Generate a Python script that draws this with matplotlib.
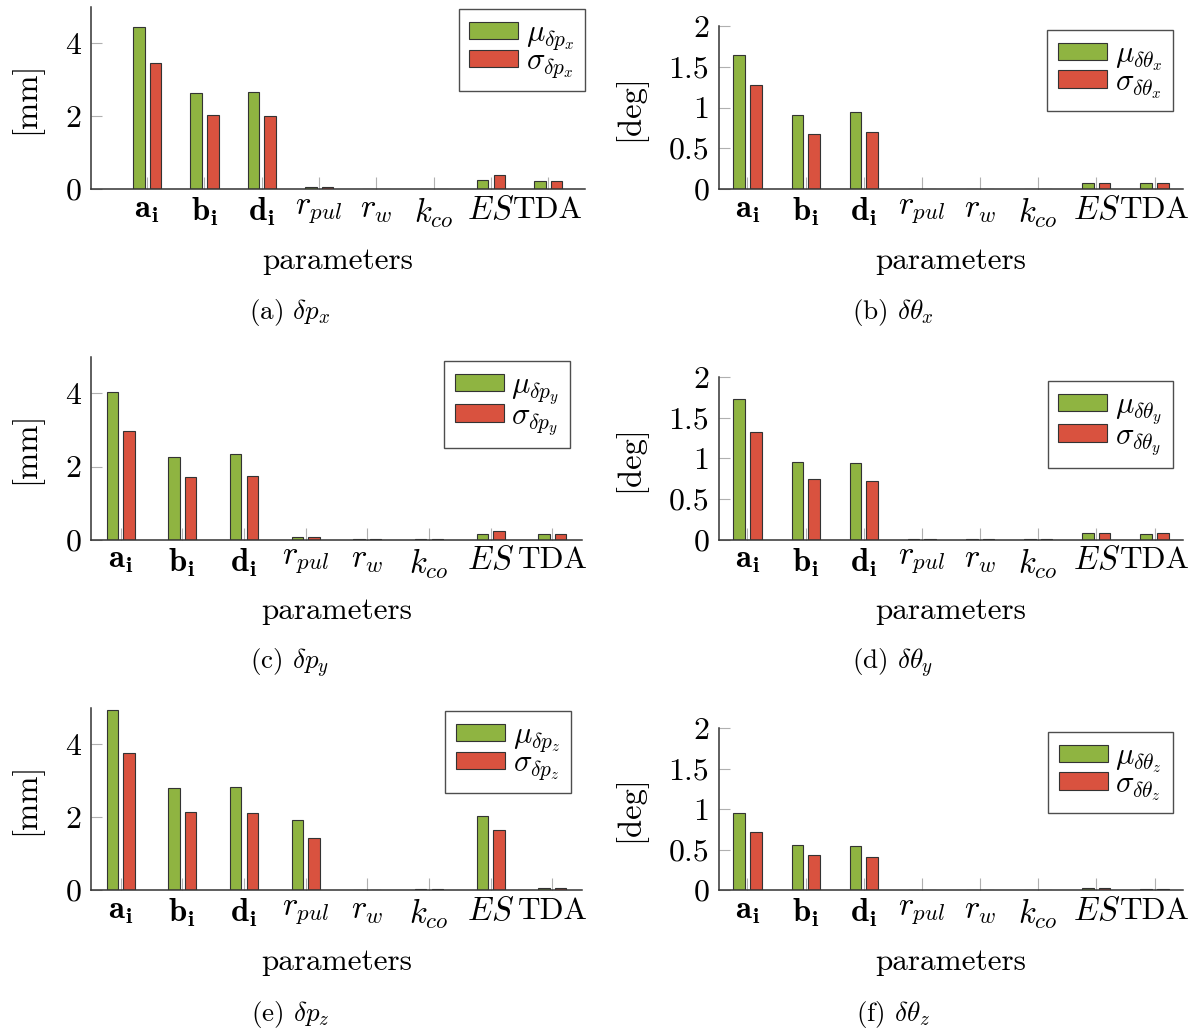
import numpy as np
import matplotlib
matplotlib.use("Agg")
import matplotlib.pyplot as plt

plt.rcParams["font.family"] = "serif"
plt.rcParams["font.serif"] = ["cmr10"]
plt.rcParams["mathtext.fontset"] = "cm"
plt.rcParams["axes.unicode_minus"] = False
plt.rcParams["axes.formatter.use_mathtext"] = True

params = [r"$\mathbf{a}_{\mathbf{i}}$", r"$\mathbf{b}_{\mathbf{i}}$", r"$\mathbf{d}_{\mathbf{i}}$",
          r"$r_{pul}$", r"$r_w$", r"$k_{co}$", r"$ES$", "TDA"]

# mean / std of the error per parameter group
mu_px = [4.45, 2.64, 2.67, 0.05, 0.01, 0.01, 0.25, 0.22]
sigma_px = [3.46, 2.03, 2.01, 0.06, 0.01, 0.01, 0.39, 0.22]
mu_tx = [1.64, 0.91, 0.95, 0.002, 0.001, 0.001, 0.07, 0.075]
sigma_tx = [1.27, 0.67, 0.70, 0.002, 0.001, 0.001, 0.078, 0.078]
mu_py = [4.05, 2.26, 2.34, 0.055, 0.01, 0.005, 0.155, 0.145]
sigma_py = [2.98, 1.70, 1.74, 0.07, 0.01, 0.005, 0.23, 0.145]
mu_ty = [1.73, 0.96, 0.946, 0.003, 0.001, 0.001, 0.074, 0.066]
sigma_ty = [1.32, 0.74, 0.724, 0.003, 0.001, 0.001, 0.082, 0.074]
mu_pz = [4.95, 2.79, 2.83, 1.92, 0.01, 0.02, 2.02, 0.065]
sigma_pz = [3.77, 2.14, 2.11, 1.44, 0.01, 0.02, 1.64, 0.055]
mu_tz = [0.95, 0.55, 0.54, 0.004, 0.003, 0.003, 0.02, 0.01]
sigma_tz = [0.71, 0.426, 0.413, 0.004, 0.003, 0.003, 0.025, 0.01]

mm_ticks = [0, 2, 4]
mm_ticklabels = ["0", "2", "4"]
deg_ticks = [0, 0.5, 1, 1.5, 2]
deg_ticklabels = ["0", "0.5", "1", "1.5", "2"]

GREEN = "#8fb441"
RED = "#d9523f"
W, H = 1192, 1029

# (mu, sigma, symbol, caption, unit, box px (x0, x1, ytop, ybot), xlim, legend corner px)
panels = [
    (mu_px, sigma_px, r"\delta p_x", r"(a) $\delta p_x$", "[mm]", (91, 585, 7, 189), (-0.98, 7.64), (585, 9)),
    (mu_tx, sigma_tx, r"\delta\theta_x", r"(b) $\delta\theta_x$", "[deg]", (719, 1183, 26, 189), (-0.49, 7.49), (1173, 30)),
    (mu_py, sigma_py, r"\delta p_y", r"(c) $\delta p_y$", "[mm]", (91, 582, 357, 539.5), (-0.48, 7.48), (570, 361)),
    (mu_ty, sigma_ty, r"\delta\theta_y", r"(d) $\delta\theta_y$", "[deg]", (719, 1183, 377, 539.5), (-0.49, 7.49), (1173, 381)),
    (mu_pz, sigma_pz, r"\delta p_z", r"(e) $\delta p_z$", "[mm]", (91, 582, 708, 890), (-0.48, 7.48), (571, 711)),
    (mu_tz, sigma_tz, r"\delta\theta_z", r"(f) $\delta\theta_z$", "[deg]", (719, 1183, 728, 890), (-0.49, 7.49), (1173, 732)),
]

fig = plt.figure(figsize=(W / 100, H / 100), dpi=100)
x = np.arange(len(params))

for mu, sigma, sym, caption, unit, box, xlim, leg in panels:
    x0, x1, yt, yb = box
    ax = fig.add_axes([x0 / W, 1 - yb / H, (x1 - x0) / W, (yb - yt) / H])

    ppu = (x1 - x0) / (xlim[1] - xlim[0])
    bw = 11.5 / ppu
    off = 8.3 / ppu
    ax.bar(x - off, mu, bw, color=GREEN, edgecolor="#333333", linewidth=0.8, label=rf"$\mu_{{{sym}}}$")
    ax.bar(x + off, sigma, bw, color=RED, edgecolor="#333333", linewidth=0.8, label=rf"$\sigma_{{{sym}}}$")

    ax.set_xlim(*xlim)
    if unit == "[mm]":
        ax.set_ylim(0, 5)
        ax.set_yticks(mm_ticks)
        ax.set_yticklabels(mm_ticklabels)
    else:
        ax.set_ylim(0, 2)
        ax.set_yticks(deg_ticks)
        ax.set_yticklabels(deg_ticklabels)
    ax.set_xticks(x)
    ax.set_xticklabels(params)

    for s in ["top", "right"]:
        ax.spines[s].set_visible(False)
    for s in ["left", "bottom"]:
        ax.spines[s].set_color("#333333")
        ax.spines[s].set_linewidth(1.1)
    ax.tick_params(axis="x", direction="in", length=8.5, width=0.8, color="#b0b0b0", pad=5)
    ax.tick_params(axis="y", direction="in", length=8, width=0.8, color="#b0b0b0", labelsize=23, pad=7)
    for t in ax.get_xticklabels():
        t.set_fontsize(22.5 if t.get_text() == "TDA" else 23.5)

    ax.set_xlabel("parameters", fontsize=22.5, va="center")
    ax.xaxis.set_label_coords((x0 + x1) / 2 / W, 1 - (yb + 72) / H, transform=fig.transFigure)
    ax.set_ylabel(unit, fontsize=23.5, va="center")
    lx = 26 if x0 < 600 else 630
    ax.yaxis.set_label_coords(lx / W, 1 - (yt + yb) / 2 / H, transform=fig.transFigure)

    lg = ax.legend(loc="upper right", bbox_to_anchor=(leg[0] / W, 1 - leg[1] / H), bbox_transform=fig.transFigure,
                   fontsize=22, frameon=True, fancybox=False, borderaxespad=0, handlelength=1.6, handleheight=0.5,
                   handletextpad=0.25, labelspacing=-0.15, borderpad=0.35)
    lg.get_frame().set_edgecolor("#222222")
    lg.get_frame().set_linewidth(1.0)

    cx = 290 if x0 < 600 else 893
    fig.text(cx / W, 1 - (yb + 124) / H, caption, fontsize=19.5, ha="center", va="center")

fig.savefig("out.png", dpi=100)
